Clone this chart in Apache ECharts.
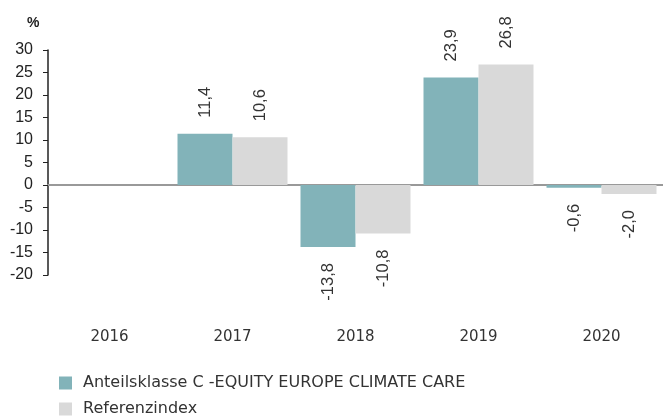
<!DOCTYPE html>
<html>
<head>
<meta charset="utf-8">
<script src="https://cdn.jsdelivr.net/npm/echarts@6/dist/echarts.min.js"></script>
<style>
  html, body { margin: 0; padding: 0; background: #fff; }
  #chart { width: 663px; height: 417px; }
</style>
</head>
<body>
<div id="chart"></div>
<script>
// Daten
const years = ['2016', '2017', '2018', '2019', '2020'];
const fondValues = [null, 11.4, -13.8, 23.9, -0.6];
const indexValues = [null, 10.6, -10.8, 26.8, -2.0];
const seriesNames = ['Anteilsklasse C -EQUITY EUROPE CLIMATE CARE', 'Referenzindex'];
const yTicks = { min: -20, max: 30, step: 5 };

const fmt = v => v.toFixed(1).replace('.', ',');
const arial = "'Liberation Sans', Arial, sans-serif";
const humanist = "'DejaVu Sans', sans-serif";

// label oben bei positiven, unten bei negativen Werten
function withLabels(values) {
    return values.map(v => {
        if (v === null) return null;
        return {
            value: v,
            label: v >= 0
                ? { position: 'top', align: 'left' }
                : { position: 'bottom', align: 'right' }
        };
    });
}

const labelStyle = {
    show: true,
    rotate: 90,
    distance: 16,
    verticalAlign: 'middle',
    color: '#333',
    fontSize: 16.5,
    fontFamily: arial,
    formatter: p => fmt(p.value)
};

let chart = echarts.init(document.getElementById('chart'));
let option = {
    animation: false,
    title: {
        text: '%',
        left: 27,
        top: 16,
        padding: 0,
        textStyle: { fontSize: 14, fontWeight: 'bold', color: '#222', fontFamily: arial }
    },
    grid: { left: 48, width: 620, top: 50, height: 225, containLabel: false },
    legend: {
        orient: 'vertical',
        left: 59,
        top: 375,
        padding: 0,
        itemWidth: 13,
        itemHeight: 13,
        itemGap: 10,
        icon: 'rect',
        textStyle: { fontSize: 16, color: '#333', fontFamily: humanist, padding: [0, 0, 0, 6] },
        data: seriesNames
    },
    xAxis: [
        {
            type: 'category',
            data: years,
            position: 'bottom',
            axisLine: { show: false, onZero: false },
            axisTick: { show: false },
            axisLabel: { margin: 55, fontSize: 15, color: '#333', fontFamily: humanist }
        },
        {
            type: 'category',
            data: years,
            axisLine: { show: true, onZero: true, lineStyle: { color: '#999', width: 2 } },
            axisTick: { show: false },
            axisLabel: { show: false }
        }
    ],
    yAxis: {
        type: 'value',
        min: yTicks.min,
        max: yTicks.max,
        interval: yTicks.step,
        axisLine: { show: true, lineStyle: { color: '#222', width: 1.5 } },
        axisTick: { show: true, inside: false, length: 5, lineStyle: { color: '#222' } },
        splitLine: { show: false },
        axisLabel: { margin: 15, fontSize: 16, color: '#222', fontFamily: arial }
    },
    series: [
        {
            name: seriesNames[0],
            type: 'bar',
            xAxisIndex: 0,
            data: withLabels(fondValues),
            barGap: 0,
            barWidth: 55,
            itemStyle: { color: '#82b3b9' },
            label: labelStyle
        },
        {
            name: seriesNames[1],
            type: 'bar',
            xAxisIndex: 0,
            data: withLabels(indexValues),
            barGap: 0,
            barWidth: 55,
            itemStyle: { color: '#d9d9d9' },
            label: labelStyle
        }
    ]
};
chart.setOption(option);
</script>
</body>
</html>
